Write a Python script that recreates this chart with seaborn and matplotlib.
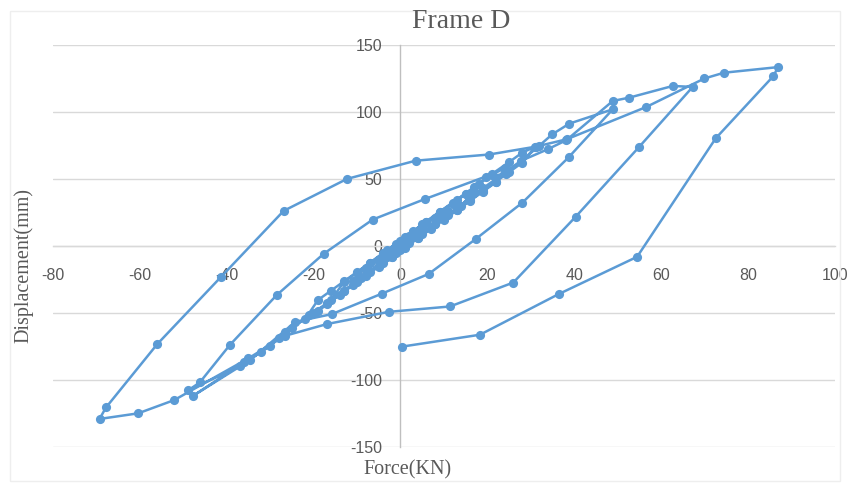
import numpy as np
import pandas as pd
import matplotlib
matplotlib.use("Agg")
import matplotlib.pyplot as plt
import seaborn as sns

# ---- data: hysteresis path, in drawing order (force kN, displacement mm) ----
# small cycles forming the dense band through the origin
band_force = [0, 1.5, 3, 5, 3.5, 1, -1.5, -3, -5, -3.5, -1,
              2, 5, 8, 11, 8, 4, 0, -4, -8, -11, -8, -4,
              0, 3, 6, 9, 12, 15, 17, 14, 11, 8, 5, 2, -1, -4, -7, -10, -13, -16, -13, -10, -7,
              -4, -1, 3, 6, 9, 12, 15, 18, 21, 24, 22, 19, 16, 13, 10, 7, 4, 1, -2, -5,
              -8, -11, -14, -17, -20, -22, -19, -16, -13,
              -10, -7, -3, 1, 5, 9, 13, 17, 21, 25, 28, 31, 28, 25, 22, 19, 16, 13, 10, 7, 4, 1,
              -2, -5, -9, -13, -17, -21, -25, -28, -32, -37, -48.9]
band_disp = [0, 5, 8.5, 12, 6.5, 1, -5, -8.5, -12, -6.5, -1,
             7, 14, 21, 26, 16.5, 7.5, -2.5, -11.5, -21, -26, -16.5, -7,
             3.5, 10.5, 17.5, 24.5, 31.5, 38.5, 41, 30, 23, 16, 9, 2, -5.5, -12.5, -19.5, -26.5,
             -33.5, -40.5, -27, -20, -13,
             -5.5, 1.5, 11, 18, 25, 32, 39, 46, 53, 58, 47.5, 40.5, 33.5, 26.5, 19.5, 12.5, 5.5,
             -1.5, -8.5, -15.5, -22.5, -29.5, -36.5, -43.5, -50.5, -55, -40.5, -33.5, -26.5,
             -19.5, -12.5, -3, 6.5, 16, 25.5, 34.5, 44, 53.5, 62.5, 69.5, 74, 62, 55, 48, 41,
             34, 27, 20, 13, 6, -1, -8, -15, -24, -33.5, -43, -52, -61.5, -68.5, -79, -90, -108]

c6_up_force = [-46.2, -39.3, -28.5, -17.7, -6.4, 5.6, 19.6, 24.4, 31.9, 35, 38.9, 48.9]
c6_up_disp = [-102, -74.1, -36.8, -6, 19.6, 34.9, 51.7, 53.8, 74.6, 83.4, 91.3, 102]
c6_down_force = [38.7, 28.1, 17.3, 6.5, -4.2, -15.8, -24.2, -34.6, -47.7]
c6_down_disp = [66, 32.3, 5, -21, -35.6, -51, -56.7, -85.3, -111.9]

c7_up_force = [-36, -30, -26.6, -18.9, -10, 0, 10, 19, 27.7, 33.9, 38.2, 48.9, 52.7, 62.7, 67.3]
c7_up_disp = [-87, -75, -64, -48.5, -27, -3, 21, 43, 63.4, 72.1, 78.9, 108.2, 110.7, 119.4, 118.7]
c7_down_force = [55, 40.4, 26, 11.4, -2.7, -16.9, -26.6, -35, -52.1, -60.4, -69.3]
c7_down_disp = [74, 21.9, -27.4, -45.3, -49.3, -58.4, -67.2, -84, -115.2, -125.1, -129.3]

c8_up_force = [-67.8, -56, -41.3, -26.9, -12.3, 3.5, 20.4, 31.2, 38.3, 56.6, 70, 74.5, 87]
c8_up_disp = [-120.7, -73.4, -23.1, 26.1, 50, 63.6, 68.2, 74.1, 79.6, 103.7, 125, 129.3, 133.5]
c8_down_force = [85.8, 72.6, 54.5, 36.4, 18.3, 0.3]
c8_down_disp = [126.5, 80.3, -8.2, -36.1, -66.4, -75.3]

x_ticks = [-80, -60, -40, -20, 0, 20, 40, 60, 80, 100]
y_ticks = [-150, -100, -50, 0, 50, 100, 150]

title = "Frame D"
x_label = "Force(KN)"
y_label = "Displacement(mm)"

force = (band_force + c6_up_force + c6_down_force + c7_up_force + c7_down_force
         + c8_up_force + c8_down_force)
disp = (band_disp + c6_up_disp + c6_down_disp + c7_up_disp + c7_down_disp
        + c8_up_disp + c8_down_disp)
df = pd.DataFrame({"force": force, "disp": disp})

# ---- style ----
sns.set_theme(style="white")
plt.rcParams["font.family"] = ["Liberation Sans", "DejaVu Sans"]
plt.rcParams["axes.unicode_minus"] = False

fig = plt.figure(figsize=(8.5, 4.87), dpi=100)
ax = fig.add_axes([0.0624, 0.0828, 0.9196, 0.8248])

blue = "#5B9BD5"
grey_txt = "#595959"

sns.lineplot(data=df, x="force", y="disp", sort=False, estimator=None,
             color=blue, linewidth=1.8, marker="o", markersize=6.6,
             markeredgewidth=0, ax=ax, zorder=3)

ax.set_xlim(-80, 100)
ax.set_ylim(-150, 150)
ax.set_xticks(x_ticks)
ax.set_yticks(y_ticks)

ax.yaxis.grid(True, color="#D9D9D9", linewidth=1.0)
ax.xaxis.grid(False)
ax.set_axisbelow(True)

for s in ["top", "right"]:
    ax.spines[s].set_visible(False)
ax.spines["left"].set_position(("data", 0))
ax.spines["left"].set_color("#BFBFBF")
ax.spines["left"].set_linewidth(1.0)
ax.spines["bottom"].set_position(("data", 0))
ax.spines["bottom"].set_color("#D9D9D9")
ax.spines["bottom"].set_linewidth(1.0)

ax.tick_params(axis="both", length=0, labelsize=11.5, labelcolor=grey_txt)
ax.tick_params(axis="y", pad=13)
ax.tick_params(axis="x", pad=16)

ax.set_xlabel("")
ax.set_ylabel("")

fig.text(0.542, 0.955, title, ha="center", va="center", fontsize=20,
         family="Liberation Serif", color=grey_txt)
fig.text(0.48, 0.035, x_label, ha="center", va="center", fontsize=14.5,
         family="Liberation Serif", color=grey_txt)
fig.text(0.028, 0.455, y_label, ha="center", va="center", fontsize=14.5,
         family="Liberation Serif", color=grey_txt, rotation=90)

# faint chart border
fig.patches.append(plt.Rectangle((0.012, 0.012), 0.976, 0.965, transform=fig.transFigure,
                                 fill=False, edgecolor="#EEEEEE", linewidth=1.0))

fig.savefig("out.png", dpi=100)
